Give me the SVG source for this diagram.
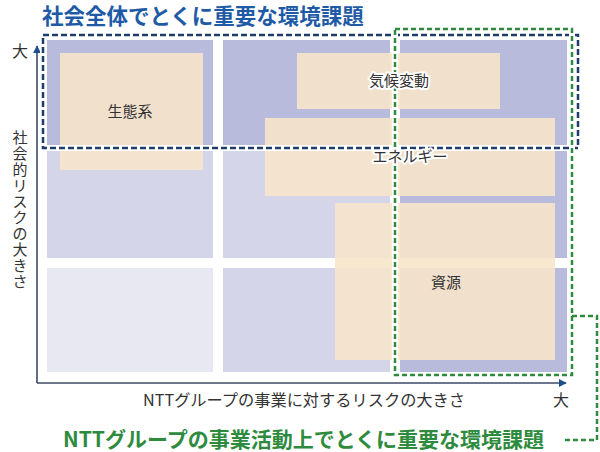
<svg xmlns="http://www.w3.org/2000/svg" width="600" height="452" viewBox="0 0 600 452">
<style>
text{font-family:"Noto Sans CJK JP","Noto Sans",sans-serif;}
.dark{fill:#b8bbdb;}
.light{fill:#d4d5e8;}
.pale{fill:#e8e8f2;}
.issue{fill:#f8e5c9;fill-opacity:0.88;}
.lbl{font-size:15px;fill:#333;text-anchor:middle;}
.halo{stroke:#fff;stroke-width:4;stroke-linejoin:round;paint-order:stroke;}
.axl{font-size:16px;fill:#333;}
.vl{font-size:15px;fill:#333;text-anchor:middle;}
.bluebox{fill:none;stroke:#1f3d6b;stroke-width:2.5;stroke-dasharray:6 3;}
.greenbox{fill:none;stroke:#2e8b3e;stroke-width:2.5;stroke-dasharray:5 3;}
.whitebg{fill:none;stroke:#fff;stroke-width:6;}
.axis{fill:none;stroke:#3b4a66;stroke-width:1.6;}
</style>
<defs>
<marker id="arr" viewBox="0 0 10 10" refX="9" refY="5" markerWidth="8" markerHeight="8" markerUnits="userSpaceOnUse" orient="auto">
<path d="M0,0 L10,5 L0,10 z" fill="#1f4e8c"/>
</marker>
</defs>
<rect width="600" height="452" fill="#fff"/>

<g id="grid">
<rect class="dark" x="47" y="40" width="166" height="108"/>
<rect class="dark" x="223" y="40" width="167" height="108"/>
<rect class="dark" x="400" y="40" width="167" height="108"/>
<rect class="light" x="47" y="148" width="166" height="110"/>
<rect class="light" x="223" y="148" width="167" height="110"/>
<rect class="dark" x="400" y="148" width="167" height="110"/>
<rect class="pale" x="47" y="268" width="166" height="104"/>
<rect class="light" x="223" y="268" width="167" height="104"/>
<rect class="dark" x="400" y="268" width="167" height="104"/>
</g>

<g id="axes">
<path class="axis" d="M37,383 V46" marker-end="url(#arr)"/>
<path class="axis" d="M37,383 H566" marker-end="url(#arr)"/>
<text class="axl" x="12" y="57">大</text>
<text class="axl" x="553" y="406">大</text>
<text class="axl" x="143" y="406" textLength="322" lengthAdjust="spacingAndGlyphs">NTTグループの事業に対するリスクの大きさ</text>
<text class="vl"><tspan x="20" y="143">社</tspan><tspan x="20" dy="16">会</tspan><tspan x="20" dy="16">的</tspan><tspan x="20" dy="16">リ</tspan><tspan x="20" dy="16">ス</tspan><tspan x="20" dy="16">ク</tspan><tspan x="20" dy="16">の</tspan><tspan x="20" dy="16">大</tspan><tspan x="20" dy="16">き</tspan><tspan x="20" dy="16">さ</tspan></text>
</g>

<g id="issue-ecosystem">
<rect class="issue" x="60" y="53" width="143" height="117"/>
<text class="lbl" x="130" y="117">生態系</text>
</g>
<g id="issue-climate">
<rect class="issue" x="297" y="53" width="203" height="56"/>
</g>
<g id="issue-energy">
<rect class="issue" x="265" y="118" width="290" height="78"/>
</g>
<g id="issue-resources">
<rect class="issue" x="335" y="203" width="220" height="157"/>
<text class="lbl" x="446" y="288">資源</text>
</g>

<g id="connectors">
<rect class="whitebg" x="43" y="35" width="535" height="113"/>
<rect class="bluebox" x="43" y="35" width="535" height="113"/>
<rect class="whitebg" x="395" y="29" width="177" height="346"/>
<rect class="greenbox" x="395" y="29" width="177" height="346"/>
<path class="greenbox" d="M572,316 H597 V440 H562"/>
</g>

<g id="labels">
<text class="lbl halo" x="399" y="86">気候変動</text>
<text class="lbl halo" x="410" y="162">エネルギー</text>
<text x="42" y="24" font-size="21.5" font-weight="bold" fill="#1e5aa6">社会全体でとくに重要な環境課題</text>
<text x="63" y="447" font-size="21" font-weight="bold" fill="#2e8b3e">NTTグループの事業活動上でとくに重要な環境課題</text>
</g>
</svg>
